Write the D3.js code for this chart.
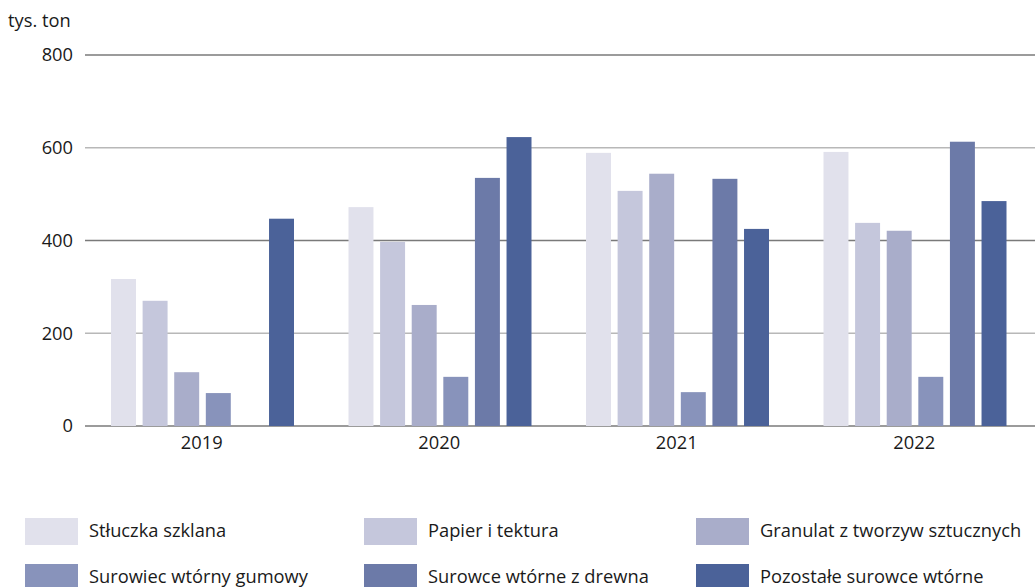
<!DOCTYPE html>
<html><head><meta charset="utf-8">
<script src="https://cdn.jsdelivr.net/npm/d3@7"></script>
<style>body{margin:0;background:#fff}svg{display:block}text{font-family:"Open Sans",sans-serif;fill:#1a1a1a}</style>
</head><body>
<script>
const years = ["2019","2020","2021","2022"];
const seriesNames = ["Stłuczka szklana","Papier i tektura","Granulat z tworzyw sztucznych","Surowiec wtórny gumowy","Surowce wtórne z drewna","Pozostałe surowce wtórne"];
const colors = ["#e1e1ec","#c5c7dc","#a9adca","#8893bb","#6c7aa8","#4b6299"];
const stluczka = [317, 472, 589, 591];
const papier = [270, 397, 507, 438];
const granulat = [116, 261, 544, 421];
const gumowy = [71, 106, 73, 106];
const drewno = [null, 535, 533, 613];
const pozostale = [447, 623, 425, 485];
const seriesValues = [stluczka, papier, granulat, gumowy, drewno, pozostale];
const yTicks = [0, 200, 400, 600, 800];
const unitLabel = "tys. ton";

const FS = 18.3;
const W = 1035, H = 587;
const svg = d3.select("body").append("svg").attr("width", W).attr("height", H);
const x0 = d3.scaleBand().domain(years).range([85, 1035]);
const x1 = d3.scaleBand().domain(d3.range(seriesNames.length)).range([0, 183]).paddingInner(0.21);
const y = d3.scaleLinear().domain([0, 800]).range([426, 55]);

// gridlines
svg.append("g").selectAll("line").data(yTicks).join("line")
  .attr("x1", 85).attr("x2", W)
  .attr("y1", d => y(d)).attr("y2", d => y(d))
  .attr("stroke", (d, i) => i % 2 === 0 ? "#7a7a7a" : "#b8b8b8")
  .attr("stroke-width", 1.3);

// y axis labels
const yAxis = d3.axisLeft(y).tickValues(yTicks).tickSize(0).tickPadding(0);
const gy = svg.append("g").attr("transform", "translate(73,0)").call(yAxis);
gy.select(".domain").remove();
gy.selectAll("text").attr("font-size", FS).attr("font-family", '"Open Sans",sans-serif').attr("fill", "#1a1a1a");

svg.append("text").attr("x", 8).attr("y", 27).attr("font-size", FS).text(unitLabel);

// bars
const groupOffset = 26;
years.forEach((yr, gi) => {
  const g = svg.append("g").attr("transform", `translate(${x0(yr) + groupOffset},0)`);
  seriesValues.forEach((vals, si) => {
    const v = vals[gi];
    if (v == null) return;
    g.append("rect").attr("x", x1(si)).attr("width", x1.bandwidth())
      .attr("y", y(v)).attr("height", y(0) - y(v)).attr("fill", colors[si]);
  });
});

// x axis
const xAxis = d3.axisBottom(x0).tickSize(0).tickPadding(0);
const gx = svg.append("g").attr("transform", "translate(-2,436)").call(xAxis);
gx.select(".domain").remove();
gx.selectAll("text").attr("font-size", FS).attr("font-family", '"Open Sans",sans-serif').attr("fill", "#1a1a1a").attr("dy", "0.71em");

// legend
const colX = [25, 364, 696];
const rowY = [518, 564];
const lg = svg.append("g");
seriesNames.forEach((name, i) => {
  const cx = colX[i % 3], ry = rowY[Math.floor(i / 3)];
  lg.append("rect").attr("x", cx).attr("y", ry).attr("width", 53).attr("height", 27).attr("fill", colors[i]);
  lg.append("text").attr("x", cx + 64).attr("y", ry + 19).attr("font-size", FS).text(name);
});
</script>
</body></html>
